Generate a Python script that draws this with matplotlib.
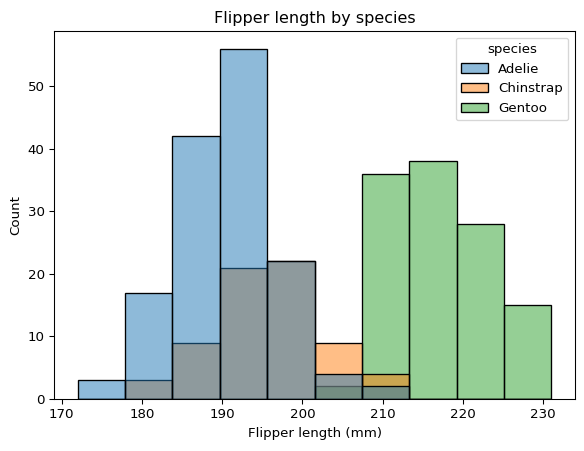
import numpy as np
import pandas as pd
import matplotlib
matplotlib.use("Agg")
import matplotlib.pyplot as plt
import seaborn as sns

# bin counts (10 bins from 172 to 231 mm)
bin_lo, bin_hi, n_bins = 172, 231, 10
species = ["Adelie", "Chinstrap", "Gentoo"]
adelie = [3, 17, 42, 56, 22, 4, 2, 0, 0, 0]
chinstrap = [0, 3, 9, 21, 22, 9, 4, 0, 0, 0]
gentoo = [0, 0, 0, 0, 0, 2, 36, 38, 28, 15]

edges = np.linspace(bin_lo, bin_hi, n_bins + 1)
centers = (edges[:-1] + edges[1:]) / 2
rows = []
for name, counts in zip(species, [adelie, chinstrap, gentoo]):
    for c, n in zip(centers, counts):
        rows.append({"flipper_length_mm": c, "species": name, "count": n})
df = pd.DataFrame(rows)

fig, ax = plt.subplots(figsize=(584 / 96, 451 / 96), dpi=96)
sns.histplot(data=df, x="flipper_length_mm", hue="species", weights="count",
             bins=n_bins, binrange=(bin_lo, bin_hi), hue_order=species, ax=ax)
ax.set_title("Flipper length by species")
ax.set_xlabel("Flipper length (mm)")
ax.set_ylabel("Count")
fig.subplots_adjust(left=0.0925, right=0.9846, bottom=0.1153, top=0.9313)
plt.savefig("out.png", dpi=96)
